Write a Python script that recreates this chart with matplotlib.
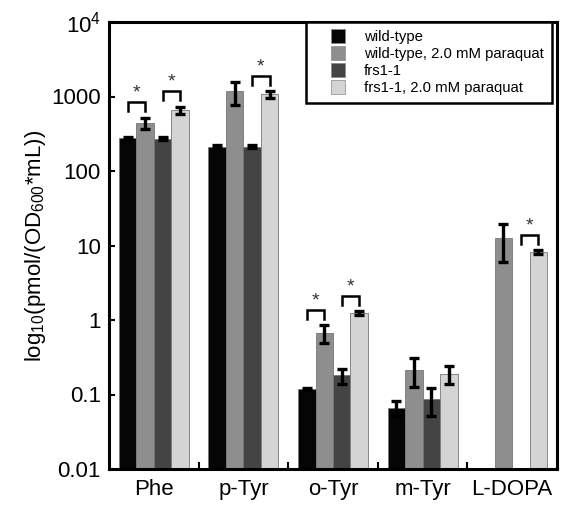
import numpy as np
import matplotlib
matplotlib.use("Agg")
import matplotlib.pyplot as plt
from matplotlib.lines import Line2D

plt.rcParams['font.family'] = ['Liberation Sans', 'DejaVu Sans']
plt.rcParams['mathtext.fontset'] = 'custom'
plt.rcParams['mathtext.rm'] = 'Liberation Sans'
plt.rcParams['mathtext.it'] = 'Liberation Sans'
plt.rcParams['mathtext.bf'] = 'Liberation Sans'

# data
groups = ['Phe', 'p-Tyr', 'o-Tyr', 'm-Tyr', 'L-DOPA']
series = ['wild-type', 'wild-type, 2.0 mM paraquat', 'frs1-1', 'frs1-1, 2.0 mM paraquat']
colors = ['#050505', '#8e8e8e', '#444444', '#d4d4d4']

wt = [275, 212, 0.118, 0.066, np.nan]
wt_pq = [445, 1180, 0.67, 0.215, 12.7]
frs = [272, 212, 0.18, 0.088, np.nan]
frs_pq = [660, 1070, 1.23, 0.19, 8.1]
values = [wt, wt_pq, frs, frs_pq]

wt_err = [15, 10, 0.004, 0.015, np.nan]
wt_pq_err = [75, 400, 0.18, 0.09, 6.7]
frs_err = [12, 10, 0.04, 0.036, np.nan]
frs_pq_err = [70, 110, 0.08, 0.053, 0.5]
errors = [wt_err, wt_pq_err, frs_err, frs_pq_err]

# significant pairs: (group index, series a, series b)
sig_pairs = [(0, 0, 1), (0, 2, 3), (1, 2, 3), (2, 0, 1), (2, 2, 3), (4, 2, 3)]

fig = plt.figure(figsize=(5.66, 5.07), dpi=100)
ax = fig.add_axes([109 / 566, 1 - 469 / 507, 448 / 566, 447 / 507])

ax.set_yscale('log')
ax.set_ylim(0.01, 1e4)
ax.set_xlim(0, len(groups))

width = 0.195
start = 0.11
x = np.arange(len(groups))
for k in range(len(series)):
    xs = x + start + width * (k + 0.5)
    ax.bar(xs, values[k], width=width, color=colors[k], edgecolor='#777777',
           linewidth=0.6, label=series[k], zorder=2)
    ax.errorbar(xs, values[k], yerr=errors[k], fmt='none', ecolor='black',
                elinewidth=2.4, capsize=3.4, capthick=2.4, zorder=3)

# significance brackets
px_per_dec = 447 / 6


def up(v, px):
    return v * 10 ** (px / px_per_dec)


for g, a, b in sig_pairs:
    xa = g + start + width * (a + 0.5)
    xb = g + start + width * (b + 0.5)
    top = np.nanmax([values[a][g] + errors[a][g], values[b][g] + errors[b][g]])
    y0 = up(top, 6.5)
    y1 = up(y0, 9)
    ax.plot([xa, xa, xb, xb], [y0, y1, y1, y0], color='black', lw=1.8,
            solid_joinstyle='miter', zorder=4)
    ax.text((xa + xb) / 2, up(y1, 0.5), '*', ha='center', va='bottom',
            fontsize=14, color='#333333')

# axes styling
for sp in ax.spines.values():
    sp.set_linewidth(2.2)
ax.set_yticks([0.01, 0.1, 1, 10, 100, 1000, 1e4])
ax.set_yticklabels(['0.01', '0.1', '1', '10', '100', '1000', r'10$^4$'])
ax.minorticks_off()
ax.tick_params(axis='y', direction='in', length=4, width=1.5, labelsize=16, pad=6)

ax.set_xticks(x + 0.5)
ax.set_xticklabels(groups)
ax.set_xticks(np.arange(1, len(groups)), minor=True)
ax.tick_params(axis='x', which='major', length=0, labelsize=16, pad=7)
ax.tick_params(axis='x', which='minor', direction='in', length=5, width=1.5)

ax.set_ylabel(r'log$_{10}$(pmol/(OD$_{600}$*mL))', fontsize=16, labelpad=2)

handles = [Line2D([], [], marker='s', linestyle='none', markersize=10,
                  markerfacecolor=c, markeredgecolor='#888888', markeredgewidth=0.5)
           for c in colors]
leg = ax.legend(handles, series, loc='upper right', bbox_to_anchor=(0.989, 1.0),
                borderaxespad=0, fontsize=10.7, handlelength=3.2, handletextpad=0.15,
                labelspacing=0.2, borderpad=0.55, fancybox=False, framealpha=1)
leg.get_frame().set_edgecolor('black')
leg.get_frame().set_linewidth(1.8)

fig.savefig('out.png', dpi=100)
